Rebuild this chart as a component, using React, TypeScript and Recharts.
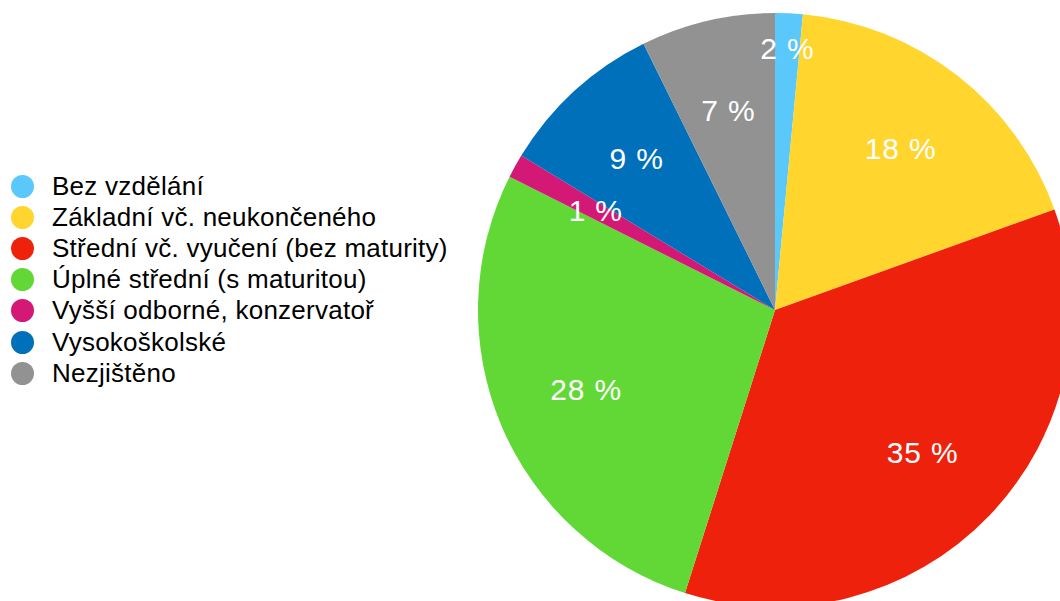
import React from "react";
import { PieChart, Pie, Cell, Legend } from "recharts";

const categories = [
  "Bez vzdělání",
  "Základní vč. neukončeného",
  "Střední vč. vyučení (bez maturity)",
  "Úplné střední (s maturitou)",
  "Vyšší odborné, konzervatoř",
  "Vysokoškolské",
  "Nezjištěno",
];
const shares = [1.5, 18.0, 35.4, 27.5, 1.3, 9.0, 7.3];
const colors = ["#5AC8FA", "#FFD52E", "#EE220C", "#61D836", "#D41876", "#0070BB", "#929292"];

const data = categories.map((name, i) => ({ name, value: shares[i] }));

const FONT = "'Liberation Sans', Arial, Helvetica, sans-serif";
const RAD = Math.PI / 180;

const renderLabel = (props: any) => {
  const { cx, cy, midAngle, outerRadius, value, index } = props;
  const r = outerRadius * (index === 0 ? 0.882 : 0.69);
  const x = cx + r * Math.cos(-midAngle * RAD);
  const y = cy + r * Math.sin(-midAngle * RAD);
  return (
    <text
      x={x}
      y={y}
      fill="#ffffff"
      textAnchor="middle"
      dominantBaseline="central"
      style={{ fontFamily: FONT, fontSize: 30, letterSpacing: 0.8 }}
    >
      {`${Math.round(value)} %`}
    </text>
  );
};

const renderLegend = () => (
  <div style={{ fontFamily: FONT, fontSize: 26, letterSpacing: 0.25, color: "#000" }}>
    {categories.map((c, i) => (
      <div key={c} style={{ height: 31.1, display: "flex", alignItems: "center", whiteSpace: "nowrap" }}>
        <span
          style={{
            display: "inline-block",
            width: 23,
            height: 23,
            borderRadius: "50%",
            background: colors[i],
            marginLeft: 10.5,
            marginRight: 18.5,
            flex: "none",
          }}
        />
        <span>{c}</span>
      </div>
    ))}
  </div>
);

export default function App() {
  return (
    <div style={{ position: "absolute", left: 0, top: 0, width: 1060, height: 601, background: "#fff", overflow: "hidden" }}>
      <PieChart width={1060} height={601} margin={{ top: 0, right: 0, bottom: 0, left: 0 }}>
        <Pie
          data={data}
          dataKey="value"
          nameKey="name"
          cx={775}
          cy={310}
          outerRadius={297}
          startAngle={90}
          endAngle={-270}
          stroke="none"
          labelLine={false}
          label={renderLabel}
          isAnimationActive={false}
        >
          {data.map((d, i) => (
            <Cell key={d.name} fill={colors[i]} />
          ))}
        </Pie>
        <Legend
          content={renderLegend}
          layout="vertical"
          wrapperStyle={{ position: "absolute", left: 0, top: 171, width: 460 }}
        />
      </PieChart>
    </div>
  );
}
